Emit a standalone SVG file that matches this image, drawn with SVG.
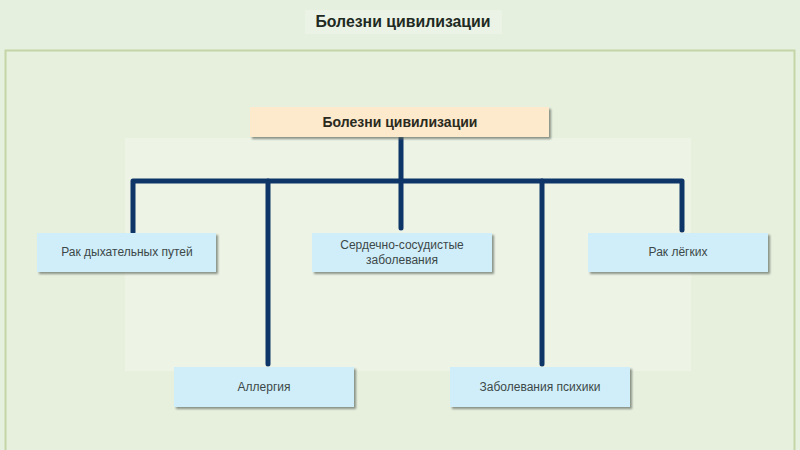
<svg xmlns="http://www.w3.org/2000/svg" width="800" height="450" viewBox="0 0 800 450">
<defs>
<filter id="sh" x="-10%" y="-20%" width="125%" height="150%">
<feDropShadow dx="2" dy="2" stdDeviation="1.2" flood-color="#606a60" flood-opacity="0.7"/>
</filter>
</defs>
<style>
.box{fill:#d0eefa;filter:url(#sh)}
.top{fill:#fde9cb;filter:url(#sh)}
.lbl{font-family:"Liberation Sans",Arial,sans-serif;font-size:12px;fill:#3c4848;text-anchor:middle}
.ttl{font-family:"Liberation Sans",Arial,sans-serif;font-size:14px;font-weight:bold;fill:#2a2a20;text-anchor:middle}
.conn{fill:none;stroke:#0e3568;stroke-width:5;stroke-linecap:round;stroke-linejoin:round}
</style>
<rect x="0" y="0" width="800" height="450" fill="#e6f0df"/>
<rect x="305" y="10" width="197" height="24" fill="#ebf3e6"/>
<text x="403" y="27" font-family="'Liberation Sans',Arial,sans-serif" font-size="16" font-weight="bold" fill="#1e2a22" text-anchor="middle" textLength="175" lengthAdjust="spacingAndGlyphs">Болезни цивилизации</text>
<rect x="5.5" y="50.5" width="789" height="405" fill="#e7efdd" stroke="#c4d6a6" stroke-width="2"/>
<rect x="125" y="138" width="566" height="233" fill="#edf3e5"/>
<g id="connectors">
<path class="conn" d="M401 138 V181"/>
<path class="conn" d="M133 232 V181 H682 V230"/>
<path class="conn" d="M268 181 V364"/>
<path class="conn" d="M401 181 V228"/>
<path class="conn" d="M542 181 V364"/>
</g>
<g id="root">
<rect class="top" x="250" y="107" width="299" height="30"/>
<text class="ttl" x="400" y="127">Болезни цивилизации</text>
</g>
<g id="n1">
<rect class="box" x="37" y="233" width="179" height="39"/>
<text class="lbl" x="127" y="256">Рак дыхательных путей</text>
</g>
<g id="n2">
<rect class="box" x="312" y="233" width="180" height="39"/>
<text class="lbl" x="402" y="249">Сердечно-сосудистые</text>
<text class="lbl" x="402" y="264">заболевания</text>
</g>
<g id="n3">
<rect class="box" x="588" y="233" width="180" height="39"/>
<text class="lbl" x="678" y="256">Рак лёгких</text>
</g>
<g id="n4">
<rect class="box" x="174" y="367" width="180" height="40"/>
<text class="lbl" x="264" y="391">Аллергия</text>
</g>
<g id="n5">
<rect class="box" x="450" y="367" width="180" height="40"/>
<text class="lbl" x="540" y="391">Заболевания психики</text>
</g>
</svg>
